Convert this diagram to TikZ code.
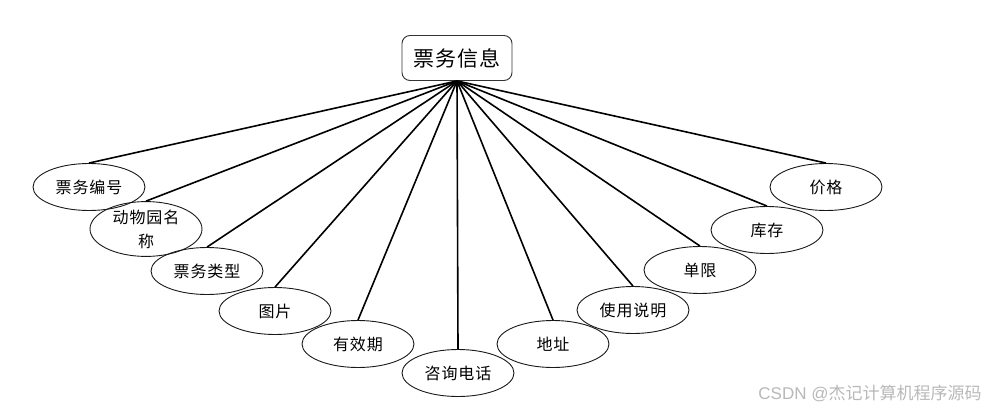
\documentclass[tikz,border=0pt]{standalone}
\usepackage{fontspec}
\usetikzlibrary{shapes.geometric}
\newfontfamily\cjk[LetterSpace=6]{Noto Sans CJK SC}
\newfontfamily\cjkmark{Noto Sans CJK SC}
\newfontfamily\marksf{Liberation Sans}
\tikzset{
	attr/.style={draw=black!90,line width=0.9pt,shape=ellipse,minimum width=112pt,minimum height=47pt,inner sep=0pt,align=center,font=\cjk\fontsize{16}{24}\selectfont},
	entity/.style={draw=black!80,line width=0.9pt,rounded corners=8pt,minimum width=110pt,minimum height=45pt,inner sep=0pt,font=\cjk\fontsize{21}{24}\selectfont},
	link/.style={line width=1.6pt}
}
\begin{document}
\begin{tikzpicture}[x=1pt,y=-1pt]
\useasboundingbox (0,0) rectangle (995,412);

\path (457,58) node[entity](root){票务信息};

\path (89,187) node[attr](a1){票务编号};
\path (146,229) node[attr](a2){动物园名\\称};
\path (207,271) node[attr](a3){票务类型};
\path (275,311) node[attr](a4){图片};
\path (358,344) node[attr](a5){有效期};
\path (458,373) node[attr](a6){咨询电话};
\path (553,344) node[attr](a7){地址};
\path (633,310) node[attr](a8){使用说明};
\path (700,270) node[attr](a9){单限};
\path (767,230) node[attr](a10){库存};
\path (826,187) node[attr](a11){价格};

\foreach \i in {1,...,11}
{
	\draw[link] (root.south) -- (a\i.north);
}

% watermark
\path (870,393) node[font=\marksf\fontsize{17}{18}\selectfont,text=black!28](mark){CSDN @{\cjkmark 杰记计算机程序源码}};

\end{tikzpicture}
\end{document}
